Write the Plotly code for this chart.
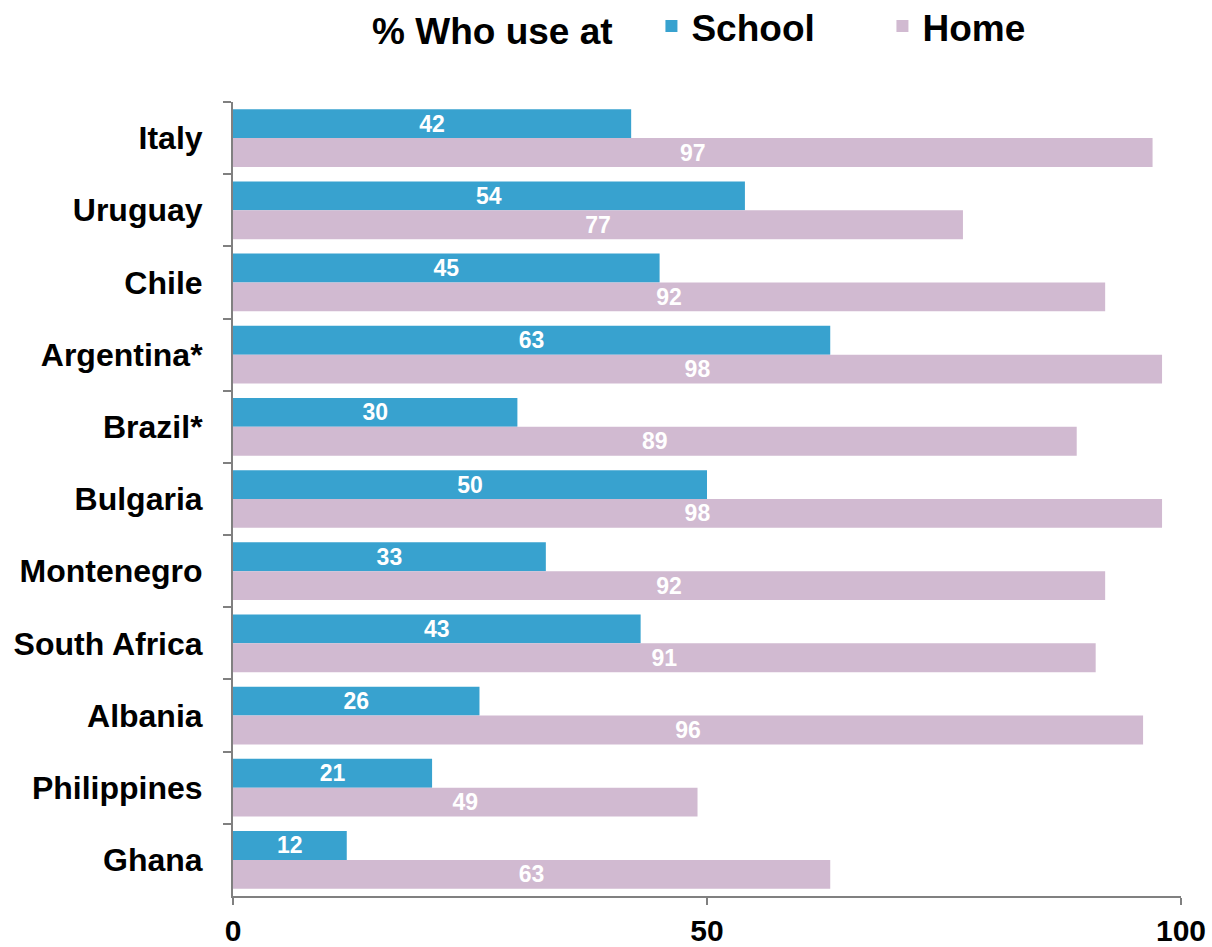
import plotly.graph_objects as go

countries = ["Italy", "Uruguay", "Chile", "Argentina*", "Brazil*", "Bulgaria",
             "Montenegro", "South Africa", "Albania", "Philippines", "Ghana"]
school = [42, 54, 45, 63, 30, 50, 33, 43, 26, 21, 12]
home = [97, 77, 92, 98, 89, 98, 92, 91, 96, 49, 63]
x_ticks = [0, 50, 100]

FONT = "Liberation Sans, Arial, sans-serif"
SCHOOL_COLOR = "#38A2CF"
HOME_COLOR = "#D1BAD1"

fig = go.Figure()
fig.add_trace(go.Bar(
    y=countries, x=school, orientation="h", name="School",
    marker=dict(color=SCHOOL_COLOR, line=dict(width=0)),
    text=[str(v) for v in school], textposition="inside",
    insidetextanchor="middle", textangle=0, constraintext="none",
    textfont=dict(family=FONT, size=23, color="white", weight="bold"),
))
fig.add_trace(go.Bar(
    y=countries, x=home, orientation="h", name="Home",
    marker=dict(color=HOME_COLOR, line=dict(width=0)),
    text=[str(v) for v in home], textposition="inside",
    insidetextanchor="middle", textangle=0, constraintext="none",
    textfont=dict(family=FONT, size=23, color="white", weight="bold"),
))

fig.update_layout(
    width=1212, height=947,
    margin=dict(l=233, r=31, t=102, b=51, autoexpand=False),
    paper_bgcolor="white", plot_bgcolor="white",
    barmode="group", bargap=0.2, bargroupgap=0,
    font=dict(family=FONT, color="black"),
    showlegend=True,
    legend=dict(
        orientation="h", x=0.537, xanchor="center", y=1.095, yanchor="middle",
        font=dict(family=FONT, size=37, color="black", weight="bold"),
        title=dict(text="% Who use at   ", side="left",
                   font=dict(family=FONT, size=37, color="black", weight="bold")),
        entrywidth=186, traceorder="normal",
    ),
    xaxis=dict(
        range=[0, 100], tickvals=x_ticks, ticktext=[str(t) for t in x_ticks],
        showgrid=False, zeroline=False,
        showline=True, linecolor="#808080", linewidth=2,
        ticks="outside", ticklen=7, tickwidth=2, tickcolor="#808080",
        tickfont=dict(family=FONT, size=30, color="black", weight="bold"),
        ticklabelstandoff=0,
    ),
    yaxis=dict(
        autorange="reversed", showgrid=False, zeroline=False,
        showline=True, linecolor="#808080", linewidth=2,
        ticks="outside", ticklen=8, tickwidth=2, tickcolor="#808080",
        tickson="boundaries",
        tickfont=dict(family=FONT, size=32, color="black", weight="bold"),
        ticklabelstandoff=22,
    ),
)

fig.write_html("out.html")
